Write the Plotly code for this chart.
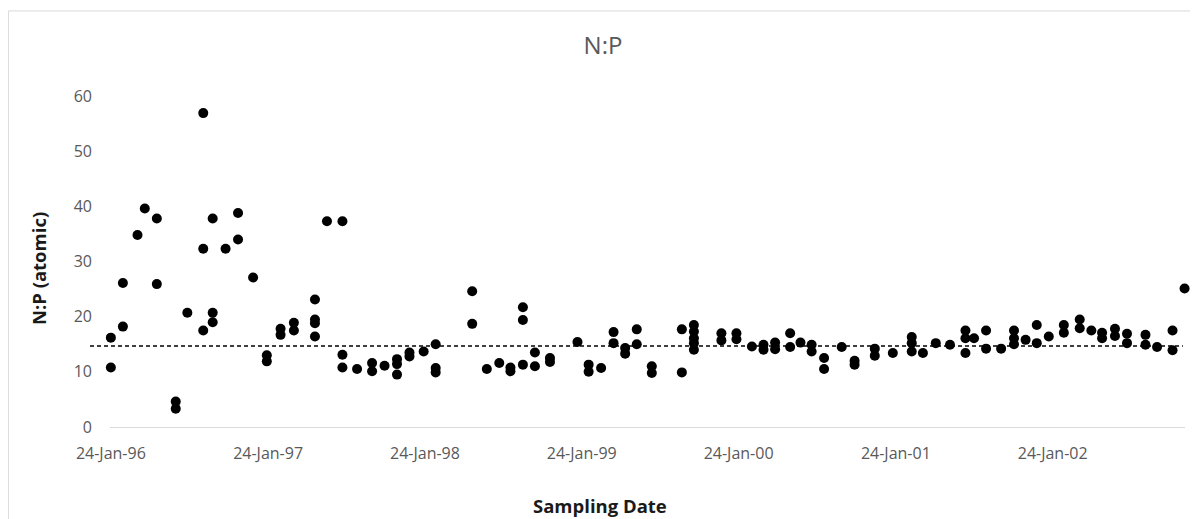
import plotly.graph_objects as go

# ---- data ----
sampling_dates = [
    "1996-01-24", "1996-01-24",
    "1996-02-21", "1996-02-21",
    "1996-03-26",
    "1996-04-12",
    "1996-05-10", "1996-05-10",
    "1996-06-23", "1996-06-23",
    "1996-07-20",
    "1996-08-26", "1996-08-26", "1996-08-26",
    "1996-09-17", "1996-09-17", "1996-09-17",
    "1996-10-17",
    "1996-11-15", "1996-11-15",
    "1996-12-20",
    "1997-01-21", "1997-01-21",
    "1997-02-22", "1997-02-22",
    "1997-03-25", "1997-03-25",
    "1997-05-13", "1997-05-13", "1997-05-13", "1997-05-13",
    "1997-06-10",
    "1997-07-16", "1997-07-16", "1997-07-16",
    "1997-08-19",
    "1997-09-23", "1997-09-23",
    "1997-10-22",
    "1997-11-20", "1997-11-20", "1997-11-20",
    "1997-12-19", "1997-12-19",
    "1998-01-21",
    "1998-02-18", "1998-02-18", "1998-02-18",
    "1998-05-14", "1998-05-14",
    "1998-06-17",
    "1998-07-16",
    "1998-08-11", "1998-08-11",
    "1998-09-09", "1998-09-09", "1998-09-09",
    "1998-10-07", "1998-10-07",
    "1998-11-11", "1998-11-11",
    "1999-01-14",
    "1999-02-09", "1999-02-09",
    "1999-03-10",
    "1999-04-08", "1999-04-08",
    "1999-05-05", "1999-05-05",
    "1999-06-01", "1999-06-01",
    "1999-07-06", "1999-07-06",
    "1999-09-14", "1999-09-14",
    "1999-10-12", "1999-10-12", "1999-10-12", "1999-10-12", "1999-10-12",
    "1999-12-15", "1999-12-15",
    "2000-01-19", "2000-01-19",
    "2000-02-24",
    "2000-03-22", "2000-03-22",
    "2000-04-18", "2000-04-18",
    "2000-05-23", "2000-05-23",
    "2000-06-16",
    "2000-07-12", "2000-07-12",
    "2000-08-10", "2000-08-10",
    "2000-09-20",
    "2000-10-20", "2000-10-20",
    "2000-12-06", "2000-12-06",
    "2001-01-17",
    "2001-03-02", "2001-03-02", "2001-03-02",
    "2001-03-28",
    "2001-04-27",
    "2001-05-30",
    "2001-07-05", "2001-07-05", "2001-07-05",
    "2001-07-25",
    "2001-08-22", "2001-08-22",
    "2001-09-26",
    "2001-10-26", "2001-10-26", "2001-10-26",
    "2001-11-22",
    "2001-12-18", "2001-12-18",
    "2002-01-15",
    "2002-02-19", "2002-02-19",
    "2002-03-28", "2002-03-28",
    "2002-04-24",
    "2002-05-19", "2002-05-19",
    "2002-06-18", "2002-06-18",
    "2002-07-16", "2002-07-16",
    "2002-08-28", "2002-08-28",
    "2002-09-24",
    "2002-10-30", "2002-10-30",
    "2002-11-27",
]

np_ratio = [
    16.2, 10.8,
    18.2, 26.1,
    34.8,
    39.6,
    37.8, 25.9,
    4.6, 3.3,
    20.7,
    56.9, 32.3, 17.5,
    37.8, 20.7, 19.0,
    32.3,
    38.8, 34.0,
    27.1,
    13.0, 11.9,
    17.8, 16.7,
    18.9, 17.5,
    23.1, 19.5, 18.8, 16.4,
    37.3,
    37.3, 13.1, 10.8,
    10.5,
    11.6, 10.1,
    11.1,
    12.3, 11.4, 9.5,
    13.5, 12.8,
    13.7,
    15.0, 10.7, 9.9,
    24.6, 18.7,
    10.5,
    11.6,
    10.8, 10.1,
    21.7, 19.4, 11.3,
    13.5, 11.0,
    12.5, 11.8,
    15.4,
    11.3, 10.0,
    10.7,
    17.2, 15.2,
    14.3, 13.3,
    17.7, 15.0,
    11.0, 9.8,
    17.7, 9.9,
    18.5, 17.3, 16.1, 15.2, 14.0,
    17.0, 15.7,
    17.0, 15.9,
    14.6,
    14.9, 14.0,
    15.3, 14.1,
    17.0, 14.5,
    15.3,
    14.9, 13.7,
    12.5, 10.5,
    14.5,
    12.0, 11.3,
    14.2, 12.9,
    13.4,
    16.3, 15.2, 13.7,
    13.4,
    15.2,
    14.9,
    17.5, 16.1, 13.4,
    16.1,
    17.5, 14.2,
    14.2,
    17.5, 16.1, 15.0,
    15.8,
    18.5, 15.2,
    16.4,
    18.5, 17.1,
    19.5, 17.9,
    17.5,
    17.1, 16.1,
    17.8, 16.5,
    16.9, 15.2,
    16.7, 14.9,
    14.5,
    17.5, 13.9,
    25.1,
]

reference_ratio = 14.7
tick_dates = ["1996-01-24", "1997-01-24", "1998-01-24", "1999-01-24",
              "2000-01-24", "2001-01-24", "2002-01-24"]
y_ticks = [0, 10, 20, 30, 40, 50, 60]

FONT = "Open Sans"
GRAY = "#595959"
TITLE_COLOR = "#1a1a1a"

W, H = 1190, 511

fig = go.Figure()
fig.add_trace(go.Scatter(
    x=sampling_dates, y=np_ratio, mode="markers",
    marker=dict(color="black", size=10, line=dict(width=0)),
    cliponaxis=False, showlegend=False,
))

fig.update_layout(
    width=W, height=H,
    margin=dict(l=102, r=13, t=88, b=92),
    paper_bgcolor="white", plot_bgcolor="white",
    title=dict(text="N:P", x=0.5, xanchor="center", y=1 - 38 / H, yanchor="middle",
               font=dict(family=FONT, size=24, color=GRAY)),
    font=dict(family=FONT),
    xaxis=dict(
        type="date", range=["1996-01-22", "2002-11-28"],
        tickvals=tick_dates, tickformat="%d-%b-%y",
        showgrid=False, zeroline=False,
        showline=True, linecolor="#d9d9d9", linewidth=1,
        ticks="", ticklabelstandoff=12,
        tickfont=dict(family=FONT, size=16, color=GRAY),
    ),
    yaxis=dict(
        range=[0, 60], tickvals=y_ticks,
        showgrid=False, zeroline=False, showline=False,
        ticks="", ticklabelstandoff=17,
        tickfont=dict(family=FONT, size=16, color=GRAY),
    ),
    annotations=[
        dict(text="<b>Sampling Date</b>", xref="paper", yref="paper",
             x=0.456, y=-0.236, xanchor="center", yanchor="middle",
             showarrow=False, font=dict(family=FONT, size=18.5, color=TITLE_COLOR)),
        dict(text="<b>N:P (atomic)</b>", xref="paper", yref="paper",
             x=-0.067, y=0.48, xanchor="center", yanchor="middle", textangle=-90,
             showarrow=False, font=dict(family=FONT, size=18.5, color=TITLE_COLOR)),
    ],
    shapes=[
        dict(type="line", xref="paper", yref="y",
             x0=-0.0186, x1=0.998, y0=reference_ratio, y1=reference_ratio,
             line=dict(color="black", width=1.5, dash="4px,3px")),
        dict(type="rect", xref="paper", yref="paper",
             x0=-0.0945, x1=1.05, y0=-0.4, y1=1.257,
             line=dict(color="#d9d9d9", width=1), layer="below"),
    ],
)

fig.write_html("out.html")
